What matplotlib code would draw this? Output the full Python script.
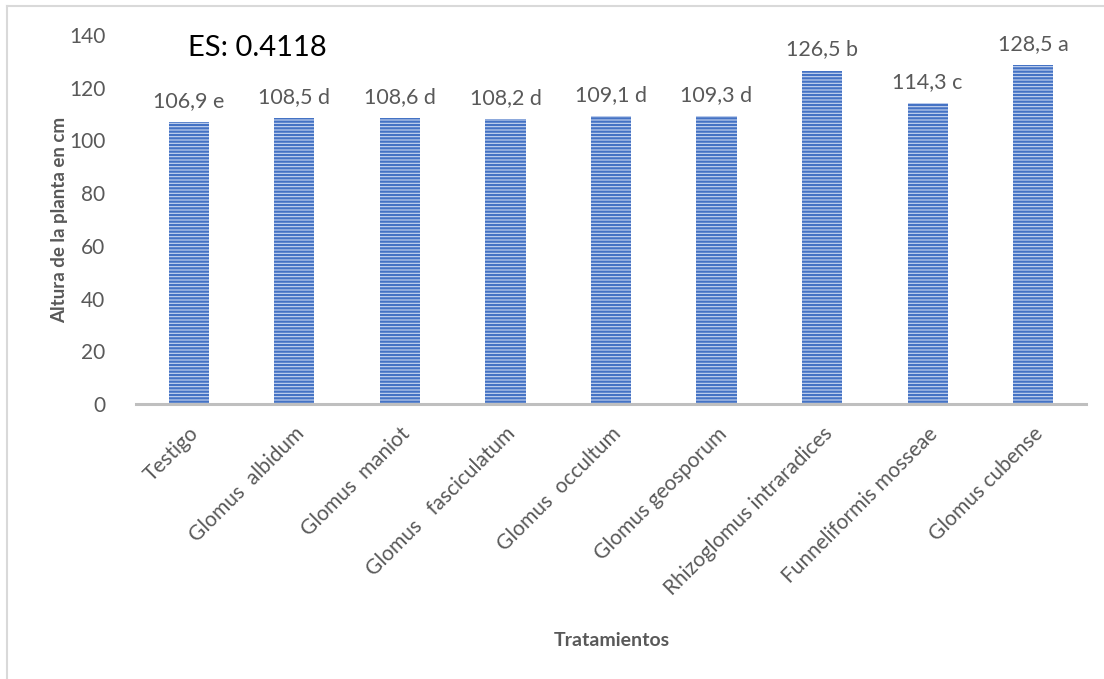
#!/usr/bin/env python3
"""Altura de la planta por tratamiento (bar chart with significance letters)."""

import matplotlib
matplotlib.use("Agg")
import matplotlib.pyplot as plt
from matplotlib.lines import Line2D

tratamientos = ["Testigo", "Glomus  albidum", "Glomus  maniot",
                "Glomus   fasciculatum", "Glomus  occultum", "Glomus geosporum",
                "Rhizoglomus intraradices", "Funneliformis mosseae",
                "Glomus cubense"]
altura = [106.9, 108.5, 108.6, 108.2, 109.1, 109.3, 126.5, 114.3, 128.5]
letras = ["e", "d", "d", "d", "d", "d", "b", "c", "a"]
etiquetas = ["106,9 e", "108,5 d", "108,6 d", "108,2 d", "109,1 d",
             "109,3 d", "126,5 b", "114,3 c", "128,5 a"]
y_ticks = [0, 20, 40, 60, 80, 100, 120, 140]

plt.rcParams["font.family"] = ["Lato", "DejaVu Sans"]
plt.rcParams["hatch.linewidth"] = 1.6

GRAY = "#595959"
BLUE = "#4472C4"

fig = plt.figure(figsize=(11.04, 6.79), dpi=100)
ax = fig.add_axes([136 / 1104, 1 - 404 / 679, 950 / 1104, (404 - 35) / 679])

x = range(len(tratamientos))
ax.bar(x, altura, width=0.38, color="#C9D6F0", edgecolor=BLUE,
       linewidth=0, hatch="-----", zorder=2)

for xi, val, lab in zip(x, altura, etiquetas):
    ax.annotate(lab, (xi, val), xytext=(0, 8), textcoords="offset points",
                ha="center", va="bottom", fontsize=15.5, color=GRAY)

ax.text(0.65, 135, "ES: 0.4118", fontsize=21, color="black",
        ha="center", va="center")

ax.set_xlim(-0.5, len(tratamientos) - 0.5)
ax.set_ylim(0, 140)
ax.set_yticks(y_ticks)
ax.set_yticklabels([str(t) for t in y_ticks], fontsize=15, color=GRAY)
ax.set_xticks(list(x))
ax.set_xticklabels(tratamientos, rotation=45, ha="right",
                   rotation_mode="anchor", fontsize=15, color=GRAY)
ax.tick_params(axis="both", length=0)
ax.tick_params(axis="y", pad=22)
ax.tick_params(axis="x", pad=14)

for side in ("top", "right", "left"):
    ax.spines[side].set_visible(False)
ax.spines["bottom"].set_color("#BFBFBF")
ax.spines["bottom"].set_linewidth(2.2)
ax.spines["bottom"].set_zorder(3)

ax.set_ylabel("Altura de la planta en cm", fontsize=13.5, fontweight="bold",
              color=GRAY, labelpad=1)
fig.text(612 / 1104, 1 - 640 / 679, "Tratamientos", fontsize=14,
         fontweight="bold", color=GRAY, ha="center", va="center")

# chart frame (only top and left edges show in the crop)
fig.add_artist(Line2D([7 / 1104, 7 / 1104], [0, 1 - 6 / 679],
                      color="#D9D9D9", lw=1.5, transform=fig.transFigure))
fig.add_artist(Line2D([7 / 1104, 1], [1 - 6 / 679, 1 - 6 / 679],
                      color="#D9D9D9", lw=1.5, transform=fig.transFigure))

fig.savefig("out.png", dpi=100)
